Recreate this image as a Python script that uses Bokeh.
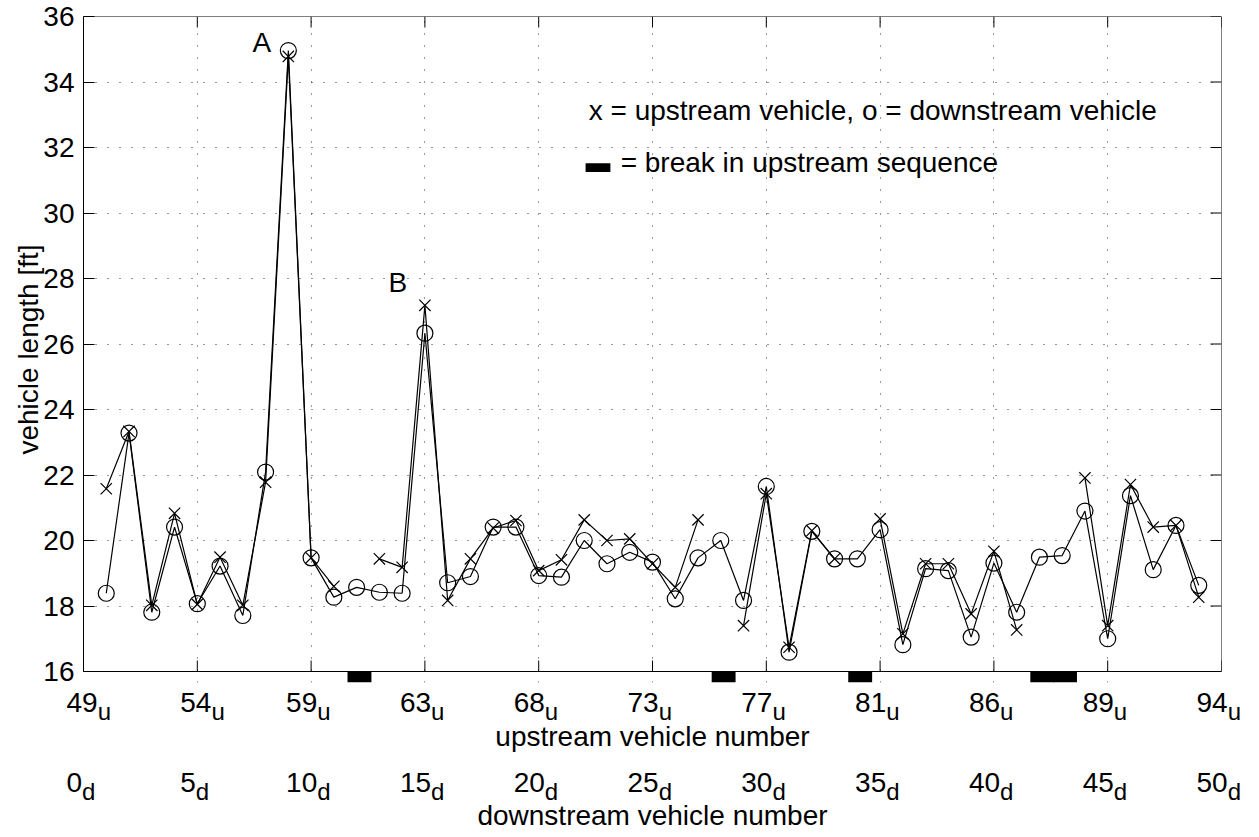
import numpy as np
from bokeh.plotting import figure
from bokeh.layouts import column
from bokeh.models import Range1d, FixedTicker, Label, BoxAnnotation
from bokeh.core.properties import value
from bokeh.embed import file_html
from bokeh.resources import INLINE

# ---------------- data ----------------
downstream_index = list(range(1, 50))
downstream_len = [18.39, 23.28, 17.81, 20.41, 18.07, 19.22, 17.71, 22.09, 34.96, 19.47,
                  18.27, 18.57, 18.42, 18.39, 26.33, 18.71, 18.90, 20.41, 20.41, 18.93,
                  18.88, 20.00, 19.29, 19.64, 19.34, 18.22, 19.47, 20.00, 18.17, 21.65,
                  16.59, 20.28, 19.44, 19.44, 20.33, 16.82, 19.14, 19.08, 17.05, 19.31,
                  17.81, 19.49, 19.54, 20.90, 17.00, 21.37, 19.11, 20.46, 18.63]
upstream_len = [21.58, 23.33, 18.02, 20.83, 18.05, 19.49, 18.02, 21.78, 34.78, 19.47,
                18.60, None, 19.44, 19.18, 27.18, 18.17, 19.44, 20.38, 20.61, 19.08,
                19.41, 20.63, 20.00, 20.05, 19.29, 18.57, 20.63, None, 17.40, 21.43,
                16.74, 20.30, 19.44, None, 20.66, 17.15, 19.29, 19.29, 17.76, 19.67,
                17.27, None, None, 21.91, 17.40, 21.71, 20.41, 20.46, 18.27]
break_index = [12, 28, 34, 42, 43]

tick_pos = [0, 5, 10, 15, 20, 25, 30, 35, 40, 45, 50]
upstream_tick_labels = ["49", "54", "59", "63", "68", "73", "77", "81", "86", "89", "94"]
downstream_tick_labels = ["0", "5", "10", "15", "20", "25", "30", "35", "40", "45", "50"]
y_ticks = [16, 18, 20, 22, 24, 26, 28, 30, 32, 34, 36]

# ---------------- style / layout ----------------
FONT = "Liberation Sans"
FS = "28px"
SUB_FS = "24px"
DIGIT_W = 15.57                      # advance of one digit at 28px
BL = 10                              # baseline correction for 28px text
BL_SUB = 9                           # baseline correction for 24px text
label_x_offsets = [-17, -17, -25, -25, -25, -25, -25, -25, -25, -25, -25]

W = 1259
LEFT, RIGHT, TOP = 83, 38, 16
FRAME_W, FRAME_H = W - LEFT - RIGHT, 655
U = FRAME_W / 50.0                   # px per x unit
V = FRAME_H / 20.0                   # px per y unit
BAR_H = 11                           # height of break bars below the axis (px)
H1 = TOP + FRAME_H + BAR_H + 4
H2 = 836 - H1

up_arr = np.array(upstream_len, dtype=float)
down_arr = np.array(downstream_len, dtype=float)
x_arr = np.array(downstream_index, dtype=float)

# ---------------- main plot ----------------
p = figure(width=W, height=H1, x_range=Range1d(0, 50), y_range=Range1d(16 - BAR_H / V, 36),
           output_backend="svg", toolbar_location=None, tools="", x_axis_location=None,
           min_border_left=LEFT, min_border_right=RIGHT, min_border_top=TOP, min_border_bottom=4)
p.frame_align = False
p.background_fill_color = "white"
p.border_fill_color = "white"
p.outline_line_color = None

p.yaxis.ticker = FixedTicker(ticks=y_ticks)
ya = p.yaxis[0]
ya.bounds = (16, 36)
ya.major_tick_in = 11
ya.major_tick_out = 0
ya.minor_tick_in = 0
ya.minor_tick_out = 0
ya.axis_line_color = "black"
ya.major_tick_line_color = "black"
ya.major_label_text_font = FONT
ya.major_label_text_font_size = FS
ya.major_label_text_color = "black"
ya.major_label_standoff = 9
ya.axis_label = "vehicle length [ft]"
ya.axis_label_text_font = FONT
ya.axis_label_text_font_size = FS
ya.axis_label_text_font_style = "normal"
ya.axis_label_text_color = "black"
ya.axis_label_standoff = -4

p.xgrid.ticker = FixedTicker(ticks=tick_pos)
p.ygrid.ticker = FixedTicker(ticks=y_ticks)
p.xgrid.bounds = (16, 36)
for g in (p.xgrid[0], p.ygrid[0]):
    g.grid_line_color = "black"
    g.grid_line_alpha = 0.8
    g.grid_line_dash = "1 11"
    g.grid_line_width = 1

# axes box and inner tick marks on bottom, top and right sides
p.quad(left=[0], right=[50], bottom=[16], top=[36], fill_color=None, line_color="black", line_width=1)
tick_len_x = 11 / U
tick_len_y = 11 / V
n = len(tick_pos)
p.segment(x0=tick_pos, x1=tick_pos, y0=[16] * n, y1=[16 + tick_len_y] * n,
          line_color="black", line_width=1)
p.segment(x0=tick_pos, x1=tick_pos, y0=[36] * n, y1=[36 - tick_len_y] * n,
          line_color="black", line_width=1)
m = len(y_ticks)
p.segment(x0=[50] * m, x1=[50 - tick_len_x] * m, y0=y_ticks, y1=y_ticks,
          line_color="black", line_width=1)

# breaks in upstream sequence: bars just below the axis
nb = len(break_index)
p.quad(left=[k - 0.4 for k in break_index], right=[k + 0.65 for k in break_index],
       top=[16] * nb, bottom=[16 - BAR_H / V] * nb, fill_color="black", line_color=None)

# series
p.line(x_arr, down_arr, line_color="black", line_width=1.2)
p.line(x_arr, up_arr, line_color="black", line_width=1.2)
p.scatter(x_arr, down_arr, marker="circle", size=16, fill_color=None, line_color="black", line_width=1.2)
p.scatter(x_arr, up_arr, marker="x", size=16, line_color="black", line_width=1.2)

def lab(x, y, text):
    p.add_layout(Label(x=x, y=y, y_offset=BL, text=text, text_font=FONT, text_font_size=FS,
                       text_color="black", text_align="left", text_baseline="alphabetic"))

lab(7.43, 34.90, "A")
lab(13.40, 27.57, "B")
lab(22.2, 32.82, "x = upstream vehicle, o = downstream vehicle")
lab(23.6, 31.25, "= break in upstream sequence")
p.add_layout(BoxAnnotation(left=22.06, right=23.15, bottom=31.25, top=31.52,
                           fill_color="black", fill_alpha=1, line_color=None))

# ---------------- strip below the plot: tick labels and axis titles ----------------
q = figure(width=W, height=H2, x_range=Range1d(-LEFT / U, (W - LEFT) / U), y_range=Range1d(H2, 0),
           output_backend="svg", toolbar_location=None, tools="",
           x_axis_location=None, y_axis_location=None, min_border=0)
q.frame_align = False
q.outline_line_color = None
q.background_fill_color = "white"
q.border_fill_color = "white"
q.xgrid.visible = False
q.ygrid.visible = False

Y0 = H1   # page y of the strip's top edge
def row_y(page_y, corr):
    return [page_y - Y0 - corr] * n

txt = dict(text_font=value(FONT), text_color="black", text_align="left", text_baseline="alphabetic")
q.text(x=tick_pos, y=row_y(712, BL), text=upstream_tick_labels, x_offset=label_x_offsets,
       text_font_size=value(FS), **txt)
q.text(x=tick_pos, y=row_y(720, BL_SUB), text=["u"] * n,
       x_offset=[o + len(s) * DIGIT_W for o, s in zip(label_x_offsets, upstream_tick_labels)],
       text_font_size=value(SUB_FS), **txt)
q.text(x=tick_pos, y=row_y(792, BL), text=downstream_tick_labels, x_offset=label_x_offsets,
       text_font_size=value(FS), **txt)
q.text(x=tick_pos, y=row_y(800, BL_SUB), text=["d"] * n,
       x_offset=[o + len(s) * DIGIT_W for o, s in zip(label_x_offsets, downstream_tick_labels)],
       text_font_size=value(SUB_FS), **txt)
ctr = dict(text_font=value(FONT), text_color="black", text_align="center",
           text_baseline="alphabetic", text_font_size=value(FS))
q.text(x=[25], y=[746 - Y0 - BL], text=["upstream vehicle number"], **ctr)
q.text(x=[25], y=[825 - Y0 - BL], text=["downstream vehicle number"], **ctr)

layout = column(p, q, spacing=0)
open("out.html", "w").write(file_html(layout, INLINE, title="vehicle length"))
